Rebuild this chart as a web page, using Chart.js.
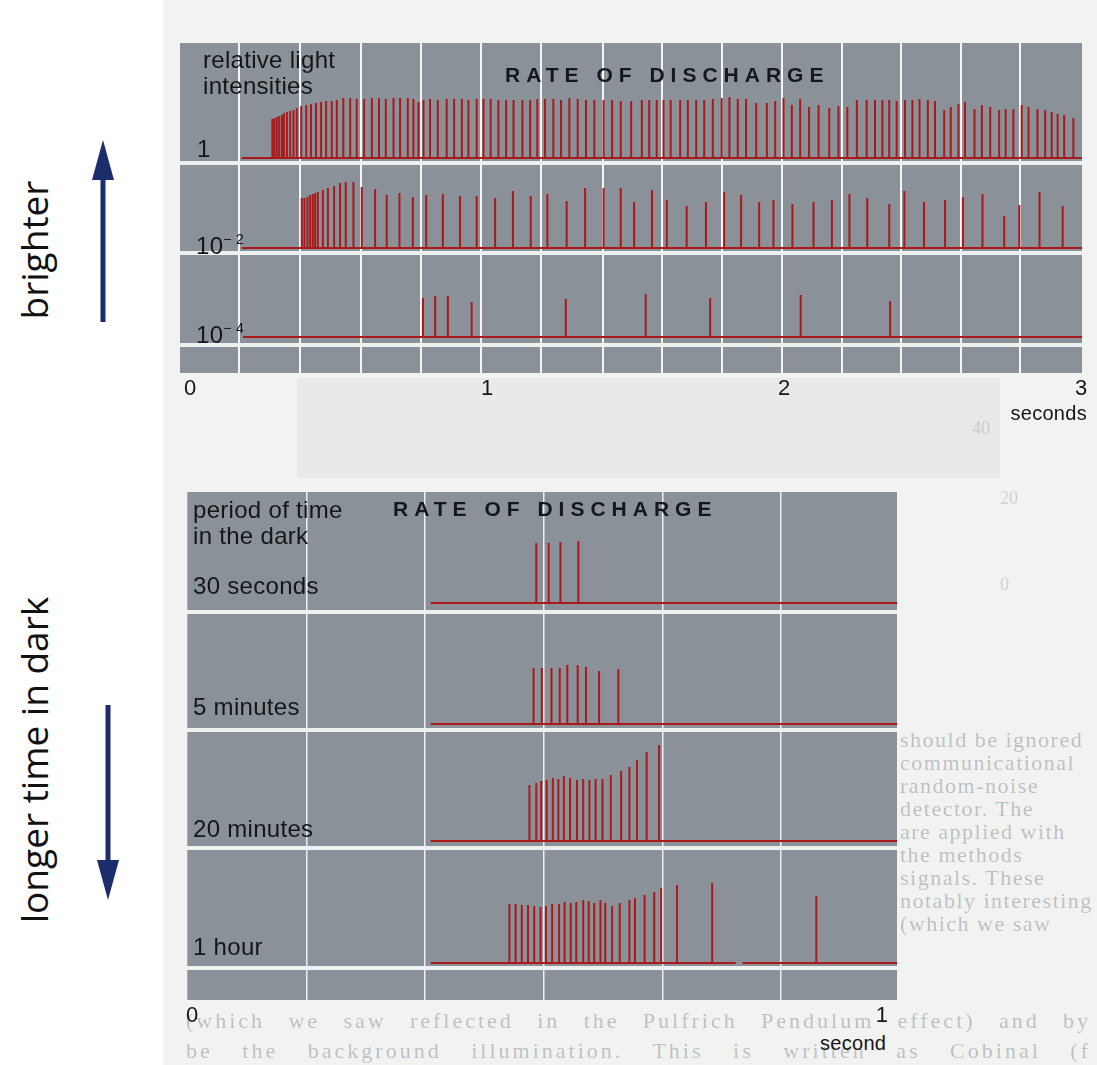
<!DOCTYPE html>
<html>
<head>
<meta charset="utf-8">
<script src="https://cdn.jsdelivr.net/npm/chart.js@4.4.1/dist/chart.umd.min.js"></script>
<style>
  body { margin: 0; width: 1097px; height: 1065px; background: #ffffff; position: relative; overflow: hidden; font-family: 'Liberation Sans', Arial, sans-serif; }
  .abs { position: absolute; white-space: nowrap; }
  .page { left: 163px; top: 0; width: 934px; height: 1065px; background: #f2f3f1; }
  .ghost { left: 297px; top: 378px; width: 703px; height: 100px; background: #e8eaea; }
  .ghostnum { color: rgba(120,125,130,0.3); font-family: 'Liberation Serif', serif; font-size: 18px; }
  .bleed { color: rgba(70,80,92,0.33); font-family: 'Liberation Serif', serif; font-size: 22px; letter-spacing: 1.5px; }
  .lbl { color: #161616; font-size: 24px; line-height: 26px; letter-spacing: 0.3px; }
  .title { color: #15171c; font-size: 21px; font-weight: bold; letter-spacing: 6px; }
  .side { color: #111; font-family: 'Open Sans', sans-serif; font-size: 37px; transform: translate(-50%, -50%) rotate(-90deg); }
  canvas { position: absolute; }
</style>
</head>
<body>
<div class="abs page"></div>
<div class="abs ghost"></div>
<div class="abs ghostnum" style="left:972px; top:418px;">40</div>
<div class="abs ghostnum" style="left:1000px; top:488px;">20</div>
<div class="abs ghostnum" style="left:1000px; top:574px;">0</div>

<div class="abs bleed" style="left:900px; top:727px;">should be ignored</div>
<div class="abs bleed" style="left:900px; top:750px;">communicational</div>
<div class="abs bleed" style="left:900px; top:773px;">random-noise</div>
<div class="abs bleed" style="left:900px; top:796px;">detector. The</div>
<div class="abs bleed" style="left:900px; top:819px;">are applied with</div>
<div class="abs bleed" style="left:900px; top:842px;">the methods</div>
<div class="abs bleed" style="left:900px; top:865px;">signals. These</div>
<div class="abs bleed" style="left:900px; top:888px;">notably interesting</div>
<div class="abs bleed" style="left:900px; top:911px;">(which we saw</div>
<div class="abs bleed" style="left:186px; top:1008px; width:905px; letter-spacing:3px; text-align:justify; text-align-last:justify;">(which we saw reflected in the Pulfrich Pendulum effect) and by</div>
<div class="abs bleed" style="left:186px; top:1038px; width:905px; letter-spacing:3px; text-align:justify; text-align-last:justify;">be the background illumination. This is written as Cobinal (f</div>

<canvas id="topChart" width="917" height="360" style="left:180px; top:43px;"></canvas>
<canvas id="bottomChart" width="730" height="538" style="left:183px; top:492px;"></canvas>

<!-- panel texts -->
<div class="abs lbl" style="left:203px; top:47px;">relative light<br>intensities</div>
<div class="abs title" style="left:505px; top:63px;">RATE OF DISCHARGE</div>
<div class="abs lbl" id="int0" style="left:197px; top:136px;"></div>
<div class="abs lbl" id="int1" style="left:196px; top:226px;"></div>
<div class="abs lbl" id="int2" style="left:196px; top:315px;"></div>
<div class="abs lbl" style="right:10px; top:400px; font-size:20px;">seconds</div>

<div class="abs lbl" style="left:193px; top:497px;">period of time<br>in the dark</div>
<div class="abs title" style="left:393px; top:497px;">RATE OF DISCHARGE</div>
<div class="abs lbl" id="dark0" style="left:193px; top:573px;"></div>
<div class="abs lbl" id="dark1" style="left:193px; top:694px;"></div>
<div class="abs lbl" id="dark2" style="left:193px; top:816px;"></div>
<div class="abs lbl" id="dark3" style="left:193px; top:934px;"></div>
<div class="abs lbl" style="left:820px; top:1030px; font-size:20px;">second</div>

<!-- side annotations -->
<div class="abs side" style="left:33px; top:250px;">brighter</div>
<div class="abs side" style="left:33px; top:760px;">longer time in dark</div>
<svg class="abs" style="left:0; top:0;" width="160" height="1065">
  <line x1="103" y1="322" x2="103" y2="172" stroke="#1b2d6b" stroke-width="5"/>
  <polygon points="92,180 114,180 103,140" fill="#1b2d6b"/>
  <line x1="108" y1="705" x2="108" y2="868" stroke="#1b2d6b" stroke-width="5"/>
  <polygon points="97,860 119,860 108,900" fill="#1b2d6b"/>
</svg>

<script>
// ---- top record: relative light intensities (time in seconds, spike height) ----
const intensityLabels = ['1', '10<sup style="font-size:14px;vertical-align:10px">\u2212 2</sup>', '10<sup style="font-size:14px;vertical-align:10px">\u2212 4</sup>'];
const topTicks = [0, 1, 2, 3];
const topGrid = [0.165, 0.370, 0.576, 0.778, 0.980, 1.182, 1.391, 1.589, 1.791, 1.993, 2.195, 2.394, 2.596, 2.795];

const int1Times = [0.277, 0.284, 0.292, 0.300, 0.309, 0.316, 0.326, 0.337, 0.348, 0.359,
  0.374, 0.391, 0.407, 0.424, 0.441, 0.458, 0.477, 0.494, 0.516, 0.539,
  0.561, 0.586, 0.612, 0.636, 0.659, 0.685, 0.707, 0.733, 0.752, 0.769,
  0.786, 0.808, 0.834, 0.864, 0.889, 0.915, 0.937, 0.965, 0.988, 1.012,
  1.038, 1.064, 1.089, 1.119, 1.145, 1.169, 1.195, 1.223, 1.249, 1.277,
  1.305, 1.333, 1.361, 1.392, 1.421, 1.450, 1.485,
  1.521, 1.546, 1.571, 1.594, 1.618, 1.650, 1.676, 1.704, 1.731, 1.760,
  1.790, 1.816, 1.844, 1.872, 1.906, 1.942, 1.970, 1.998, 2.026, 2.054,
  2.084, 2.116, 2.152, 2.183, 2.213, 2.245, 2.278, 2.306, 2.331, 2.354,
  2.379, 2.407, 2.432, 2.456, 2.484, 2.508, 2.539, 2.561, 2.587, 2.609,
  2.641, 2.666, 2.694, 2.724, 2.746, 2.772, 2.800, 2.823, 2.853, 2.879,
  2.901, 2.921, 2.943, 2.974];
const int1Amps = [39, 40, 41, 42, 43, 45, 46, 47, 48, 50,
  52, 53, 54, 55, 56, 57, 57, 58, 60, 60,
  59, 59, 60, 60, 59, 60, 60, 60, 59, 56,
  58, 59, 58, 59, 59, 59, 58, 59, 59, 59,
  58, 58, 58, 58, 58, 59, 59, 59, 58, 60,
  59, 58, 58, 58, 58, 57, 57,
  58, 58, 58, 58, 58, 58, 58, 58, 58, 59,
  60, 61, 59, 59, 55, 55, 57, 60, 53, 59,
  51, 53, 50, 52, 51, 58, 58, 58, 58, 58,
  57, 58, 58, 59, 58, 57, 48, 51, 54, 56,
  49, 53, 51, 48, 49, 49, 53, 51, 49, 48,
  46, 44, 43, 40];

const int2Times = [0.376, 0.385, 0.395, 0.404, 0.413, 0.421, 0.430, 0.447, 0.464, 0.485,
  0.505, 0.524, 0.550, 0.578, 0.623, 0.662, 0.705, 0.750, 0.795, 0.851,
  0.909, 0.965, 1.027, 1.087, 1.147, 1.203, 1.268, 1.330, 1.392, 1.450,
  1.495, 1.555, 1.605, 1.672, 1.737, 1.798, 1.855, 1.916, 1.964, 2.028,
  2.099, 2.161, 2.220, 2.280, 2.354, 2.405, 2.471, 2.542, 2.602, 2.668,
  2.741, 2.792, 2.860, 2.938];
const int2Amps = [50, 50, 51, 53, 54, 55, 56, 58, 60, 62,
  65, 66, 66, 61, 59, 53, 55, 51, 53, 54,
  52, 52, 50, 57, 52, 54, 47, 60, 60, 60,
  46, 58, 48, 42, 46, 56, 53, 46, 48, 44,
  46, 48, 54, 50, 44, 57, 46, 48, 51, 54,
  32, 43, 56, 42];

const int3Times = [0.784, 0.825, 0.868, 0.948, 1.265, 1.534, 1.751, 2.056, 2.357];
const int3Amps = [39, 41, 41, 35, 38, 43, 39, 42, 36];

// ---- bottom record: period of time in the dark ----
const darkLabels = ['30 seconds', '5 minutes', '20 minutes', '1 hour'];
const bottomTicks = [0, 1];
const bottomGrid = [0.166, 0.337, 0.510, 0.682, 0.853];

const dark30sTimes = [0.499, 0.517, 0.534, 0.560];
const dark30sAmps = [60, 60, 61, 62];
const dark5mTimes = [0.495, 0.507, 0.521, 0.533, 0.544, 0.559, 0.571, 0.590, 0.618];
const dark5mAmps = [56, 56, 56, 56, 59, 59, 57, 53, 55];
const dark20mTimes = [0.489, 0.499, 0.506, 0.514, 0.523, 0.531, 0.539, 0.548, 0.558, 0.567,
  0.576, 0.585, 0.595, 0.607, 0.622, 0.634, 0.645, 0.659, 0.677];
const dark20mAmps = [56, 58, 60, 61, 63, 62, 65, 63, 61, 62,
  61, 62, 62, 66, 70, 74, 81, 89, 96];
const dark1hTimes = [0.460, 0.469, 0.478, 0.487, 0.496, 0.505, 0.513, 0.522, 0.532, 0.540,
  0.549, 0.557, 0.567, 0.575, 0.583, 0.592, 0.599, 0.609, 0.620, 0.634,
  0.642, 0.656, 0.670, 0.680, 0.703, 0.754, 0.905];
const dark1hAmps = [59, 59, 58, 58, 57, 56, 57, 59, 59, 61,
  60, 61, 63, 62, 60, 63, 60, 57, 60, 63,
  65, 68, 71, 75, 78, 80, 67];
const dark1hGap = [0.788, 0.798];

intensityLabels.forEach((t, i) => { document.getElementById('int' + i).innerHTML = t; });
darkLabels.forEach((t, i) => { document.getElementById('dark' + i).textContent = t; });

const RED = '#aa1a1b';

// one trace: flat baseline with vertical spikes
function spikeTrace(times, amps, base, start, end, gap) {
  const pts = [{ x: start, y: base }];
  const addGap = () => pts.push({ x: gap[0], y: base }, { x: (gap[0] + gap[1]) / 2, y: null }, { x: gap[1], y: base });
  times.forEach((t, i) => {
    if (gap && t > gap[0] && pts[pts.length - 1].x < gap[0]) addGap();
    pts.push({ x: t, y: base }, { x: t, y: base + amps[i] }, { x: t, y: base });
  });
  if (gap && pts[pts.length - 1].x < gap[0]) addGap();
  pts.push({ x: end, y: base });
  return {
    data: pts, borderColor: RED, borderWidth: 2, pointRadius: 0,
    tension: 0, spanGaps: false, borderJoinStyle: 'bevel'
  };
}

const panelBg = {
  id: 'panelBg',
  beforeDraw(chart) {
    const { ctx, chartArea: a } = chart;
    ctx.save();
    ctx.fillStyle = '#8a9198';
    ctx.fillRect(a.left, a.top, a.right - a.left, a.bottom - a.top);
    ctx.restore();
  }
};

// panelWidth: the canvas is wider than the panel so the last tick label fits
function makeChart(id, datasets, xMin, xMax, yMax, gridTimes, labelTicks, separators, panelWidth, gridStyle) {
  const canvas = document.getElementById(id);
  return new Chart(canvas, {
    type: 'line',
    data: { datasets: datasets },
    plugins: [panelBg],
    options: {
      responsive: false,
      animation: false,
      events: [],
      layout: { padding: { left: 0, right: canvas.width - panelWidth, top: 0, bottom: 0 } },
      plugins: { legend: { display: false }, tooltip: { enabled: false } },
      scales: {
        xg: {
          type: 'linear', position: 'bottom', min: xMin, max: xMax,
          afterBuildTicks: s => { s.ticks = gridTimes.map(v => ({ value: v })); },
          afterFit: s => { s.height = 0; },
          ticks: { display: false },
          border: { display: false },
          grid: Object.assign({ drawTicks: false, color: 'rgba(255,255,255,0.92)', lineWidth: 2 }, gridStyle)
        },
        x: {
          type: 'linear', position: 'bottom', min: xMin, max: xMax,
          afterBuildTicks: s => { s.ticks = labelTicks.map(v => ({ value: v })); },
          afterFit: s => { s.height = 30; },
          ticks: { padding: 3, color: '#161616', font: { family: 'Liberation Sans', size: 22 }, maxRotation: 0 },
          border: { display: false },
          grid: { display: false, drawTicks: false }
        },
        y: {
          type: 'linear', min: 0, max: yMax,
          afterBuildTicks: s => { s.ticks = separators.map(v => ({ value: v })); },
          afterFit: s => { s.width = 0; },
          ticks: { display: false },
          border: { display: false },
          grid: { drawTicks: false, color: '#eef0f0', lineWidth: 4 }
        }
      }
    }
  });
}

// baselines / separators in panel height units (0 = panel bottom)
const topBases = [215, 125, 36];
const topSeps = [210, 120, 28];
const topDatasets = [
  spikeTrace(int1Times, int1Amps, topBases[0], 0.174, 3.003),
  spikeTrace(int2Times, int2Amps, topBases[1], 0.174, 3.003),
  spikeTrace(int3Times, int3Amps, topBases[2], 0.178, 3.003)
];

const bottomBases = [397, 276, 159, 37];
const bottomSeps = [388, 270, 152, 32];
const bottomDatasets = [
  spikeTrace(dark30sTimes, dark30sAmps, bottomBases[0], 0.346, 1.022),
  spikeTrace(dark5mTimes, dark5mAmps, bottomBases[1], 0.346, 1.022),
  spikeTrace(dark20mTimes, dark20mAmps, bottomBases[2], 0.346, 1.022),
  spikeTrace(dark1hTimes, dark1hAmps, bottomBases[3], 0.346, 1.022, dark1hGap)
];

makeChart('topChart', topDatasets, -0.034, 3.003, 330, topGrid, topTicks, topSeps, 902, {});
makeChart('bottomChart', bottomDatasets, -0.007, 1.022, 508, bottomGrid, bottomTicks, bottomSeps, 714,
  { lineWidth: 1.5, color: 'rgba(255,255,255,0.85)', borderDash: [4, 3] });
</script>
</body>
</html>
